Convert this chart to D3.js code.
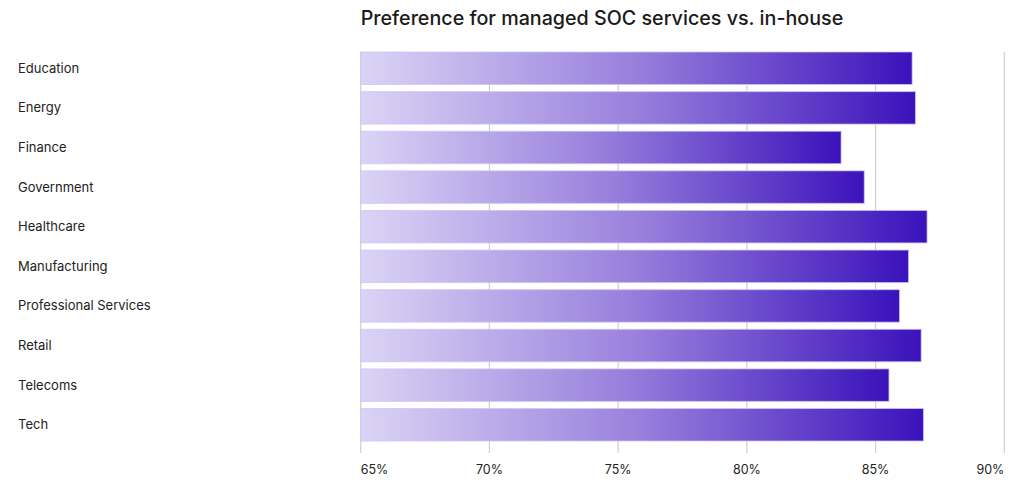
<!DOCTYPE html>
<html>
<head>
<meta charset="utf-8">
<script src="https://cdn.jsdelivr.net/npm/d3@7/dist/d3.min.js"></script>
<style>
  html, body { margin: 0; padding: 0; background: #fff; }
  svg { display: block; font-family: Inter, "Noto Sans", sans-serif; }
</style>
</head>
<body>
<svg id="chart" width="1024" height="497"></svg>
<script>
const categories = ["Education", "Energy", "Finance", "Government", "Healthcare",
  "Manufacturing", "Professional Services", "Retail", "Telecoms", "Tech"];
const values = [86.42, 86.55, 83.66, 84.56, 87.0, 86.28, 85.93, 86.77, 85.52, 86.86];
const tickValues = [65, 70, 75, 80, 85, 90];
const tickLabels = ["65%", "70%", "75%", "80%", "85%", "90%"];
const title = "Preference for managed SOC services vs. in-house";

const svg = d3.select("#chart");

const x = d3.scaleLinear().domain([65, 90]).range([360.7, 1004.3]);
const y = d3.scaleBand().domain(categories).range([52, 441]).paddingInner(0.18).paddingOuter(0);

const defs = svg.append("defs");
const grad = defs.append("linearGradient").attr("id", "barGrad")
  .attr("x1", "0%").attr("x2", "100%").attr("y1", "0%").attr("y2", "0%");
grad.append("stop").attr("offset", "0%").attr("stop-color", "#dbd4f5");
grad.append("stop").attr("offset", "50%").attr("stop-color", "#987fdc");
grad.append("stop").attr("offset", "100%").attr("stop-color", "#3a12bb");

svg.append("text")
  .attr("x", 360.7).attr("y", 24.5)
  .attr("font-size", 19.7).attr("font-weight", 500)
  .attr("fill", "#1a1a1a")
  .text(title);

svg.append("g").selectAll("line").data(tickValues).join("line")
  .attr("x1", d => x(d)).attr("x2", d => x(d))
  .attr("y1", 52).attr("y2", 453)
  .attr("stroke", "#cfcfcf").attr("stroke-width", 1.2);

svg.append("g").selectAll("rect").data(values).join("rect")
  .attr("x", x(65))
  .attr("y", (d, i) => y(categories[i]))
  .attr("width", d => x(d) - x(65))
  .attr("height", y.bandwidth())
  .attr("fill", "url(#barGrad)")
  .attr("stroke", "rgba(205,195,245,0.75)")
  .attr("stroke-width", 1);

svg.append("g").selectAll("text").data(categories).join("text")
  .attr("x", 18)
  .attr("y", d => y(d) + y.bandwidth() / 2)
  .attr("dy", "0.35em")
  .attr("font-size", 13)
  .attr("fill", "#222")
  .text(d => d);

svg.append("g").selectAll("text").data(tickValues).join("text")
  .attr("x", d => x(d))
  .attr("y", 474)
  .attr("font-size", 12.5)
  .attr("fill", "#222")
  .attr("text-anchor", (d, i) => i === 0 ? "start" : (i === tickValues.length - 1 ? "end" : "middle"))
  .text((d, i) => tickLabels[i]);
</script>
</body>
</html>
